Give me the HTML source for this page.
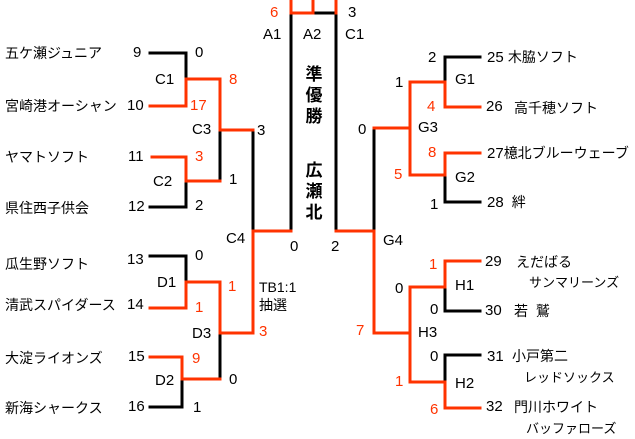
<!DOCTYPE html><html><head><meta charset="utf-8"><style>
body{margin:0;width:635px;height:439px;background:#fff;position:relative;overflow:hidden;font-family:"Liberation Sans","Noto Sans CJK JP",sans-serif;}
.t{position:absolute;line-height:16px;font-size:15px;color:#000;white-space:nowrap;}
.n{font-size:14px;}
.s{font-size:13px;}
.o{color:#f30;}
.b{font-weight:bold;}
svg{position:absolute;left:0;top:0}
</style></head><body>
<svg width="635" height="439" fill="none" stroke-width="3" stroke-linecap="square">
<g stroke="#000">
<path d="M150 53H186V79"/><path d="M186 181V207H150"/><path d="M220 130V181"/><path d="M253 130V231"/>
<path d="M150 256H186V282"/><path d="M220 333V379"/><path d="M182 381V407H150"/>
<path d="M291 13V231"/><path d="M313 13H336V231"/><path d="M374 130V231"/>
<path d="M410 82V128"/><path d="M480 57H445V82"/><path d="M445 175V202H480"/>
<path d="M410 288V333"/><path d="M445 287V311H480"/><path d="M480 355H445V382"/>
</g>
<g stroke="#f30">
<path d="M150 106H186V79H220V130H253"/><path d="M152 157H186V181H220"/>
<path d="M291 231H253V333H220V282H186V308H150"/><path d="M150 357H182V379H220"/>
<path d="M291 1V13H313M313 1V13M336 1V13"/>
<path d="M336 231H374V333H410V382H445V408H480"/><path d="M374 128H410V175H445V153H480"/>
<path d="M410 128V82H445V107H480"/><path d="M410 333V287H445V261H480"/>
</g>
</svg>
<div class="t n" style="left:5px;top:45px">五ケ瀬ジュニア</div>
<div class="t n" style="left:5px;top:98px">宮崎港オーシャン</div>
<div class="t n" style="left:5px;top:149px">ヤマトソフト</div>
<div class="t n" style="left:5px;top:200px">県住西子供会</div>
<div class="t n" style="left:5px;top:256px">瓜生野ソフト</div>
<div class="t n" style="left:5px;top:297px">清武スパイダース</div>
<div class="t n" style="left:5px;top:350px">大淀ライオンズ</div>
<div class="t n" style="left:5px;top:400px">新海シャークス</div>
<div class="t" style="left:133px;top:45px">9</div>
<div class="t" style="left:127px;top:98px">10</div>
<div class="t" style="left:128px;top:149px">11</div>
<div class="t" style="left:128px;top:199px">12</div>
<div class="t" style="left:127px;top:252px">13</div>
<div class="t" style="left:127px;top:297px">14</div>
<div class="t" style="left:128px;top:349px">15</div>
<div class="t" style="left:128px;top:399px">16</div>
<div class="t" style="left:195px;top:45px">0</div>
<div class="t" style="left:155px;top:72px">C1</div>
<div class="t o" style="left:190px;top:98px">17</div>
<div class="t o" style="left:229px;top:72px">8</div>
<div class="t" style="left:192px;top:122px">C3</div>
<div class="t" style="left:257px;top:123px">3</div>
<div class="t o" style="left:195px;top:149px">3</div>
<div class="t" style="left:153px;top:174px">C2</div>
<div class="t" style="left:229px;top:172px">1</div>
<div class="t" style="left:195px;top:198px">2</div>
<div class="t" style="left:226px;top:231px">C4</div>
<div class="t" style="left:290px;top:239px">0</div>
<div class="t" style="left:195px;top:248px">0</div>
<div class="t" style="left:157px;top:275px">D1</div>
<div class="t o" style="left:228px;top:279px">1</div>
<div class="t o" style="left:195px;top:300px">1</div>
<div class="t" style="left:192px;top:326px">D3</div>
<div class="t n" style="left:259px;top:279px">TB1:1</div>
<div class="t n" style="left:259px;top:297px">抽選</div>
<div class="t o" style="left:259px;top:324px">3</div>
<div class="t o" style="left:192px;top:351px">9</div>
<div class="t" style="left:155px;top:373px">D2</div>
<div class="t" style="left:229px;top:372px">0</div>
<div class="t" style="left:193px;top:400px">1</div>
<div class="t o" style="left:270px;top:5px">6</div>
<div class="t" style="left:263px;top:27px">A1</div>
<div class="t" style="left:303px;top:27px">A2</div>
<div class="t" style="left:348px;top:5px">3</div>
<div class="t" style="left:345px;top:27px">C1</div>
<div class="t b" style="left:305px;top:64px;width:18px;font-size:17px;line-height:21px;text-align:center">準<br>優<br>勝</div>
<div class="t b" style="left:305px;top:160px;width:18px;font-size:17px;line-height:21px;text-align:center">広<br>瀬<br>北</div>
<div class="t" style="left:331px;top:239px">2</div>
<div class="t" style="left:395px;top:75px">1</div>
<div class="t" style="left:428px;top:50px">2</div>
<div class="t" style="left:455px;top:72px">G1</div>
<div class="t o" style="left:427px;top:99px">4</div>
<div class="t" style="left:358px;top:122px">0</div>
<div class="t" style="left:418px;top:120px">G3</div>
<div class="t o" style="left:428px;top:145px">8</div>
<div class="t o" style="left:394px;top:167px">5</div>
<div class="t" style="left:455px;top:170px">G2</div>
<div class="t" style="left:430px;top:197px">1</div>
<div class="t" style="left:383px;top:233px">G4</div>
<div class="t o" style="left:429px;top:257px">1</div>
<div class="t" style="left:395px;top:281px">0</div>
<div class="t" style="left:455px;top:278px">H1</div>
<div class="t" style="left:430px;top:302px">0</div>
<div class="t o" style="left:356px;top:323px">7</div>
<div class="t" style="left:418px;top:325px">H3</div>
<div class="t" style="left:430px;top:349px">0</div>
<div class="t o" style="left:395px;top:374px">1</div>
<div class="t" style="left:455px;top:376px">H2</div>
<div class="t o" style="left:430px;top:402px">6</div>
<div class="t" style="left:487px;top:49px">25 <span class="n">木脇ソフト</span></div>
<div class="t" style="left:486px;top:99px">26</div><div class="t n" style="left:514px;top:100px">高千穂ソフト</div>
<div class="t" style="left:487px;top:145px">27<span class="n">檍北ブルーウェーブ</span></div>
<div class="t" style="left:487px;top:194px">28 <span class="n">&nbsp;絆</span></div>
<div class="t" style="left:485px;top:254px">29</div><div class="t n" style="left:516px;top:254px">えだばる</div>
<div class="t s" style="left:529px;top:275px">サンマリーンズ</div>
<div class="t" style="left:485px;top:303px">30</div><div class="t n" style="left:514px;top:303px">若&nbsp;&nbsp;鷲</div>
<div class="t" style="left:487px;top:349px">31</div><div class="t n" style="left:512px;top:348px">小戸第二</div>
<div class="t s" style="left:524px;top:370px">レッドソックス</div>
<div class="t" style="left:486px;top:399px">32</div><div class="t n" style="left:514px;top:399px">門川ホワイト</div>
<div class="t s" style="left:526px;top:421px">バッファローズ</div>
</body></html>
